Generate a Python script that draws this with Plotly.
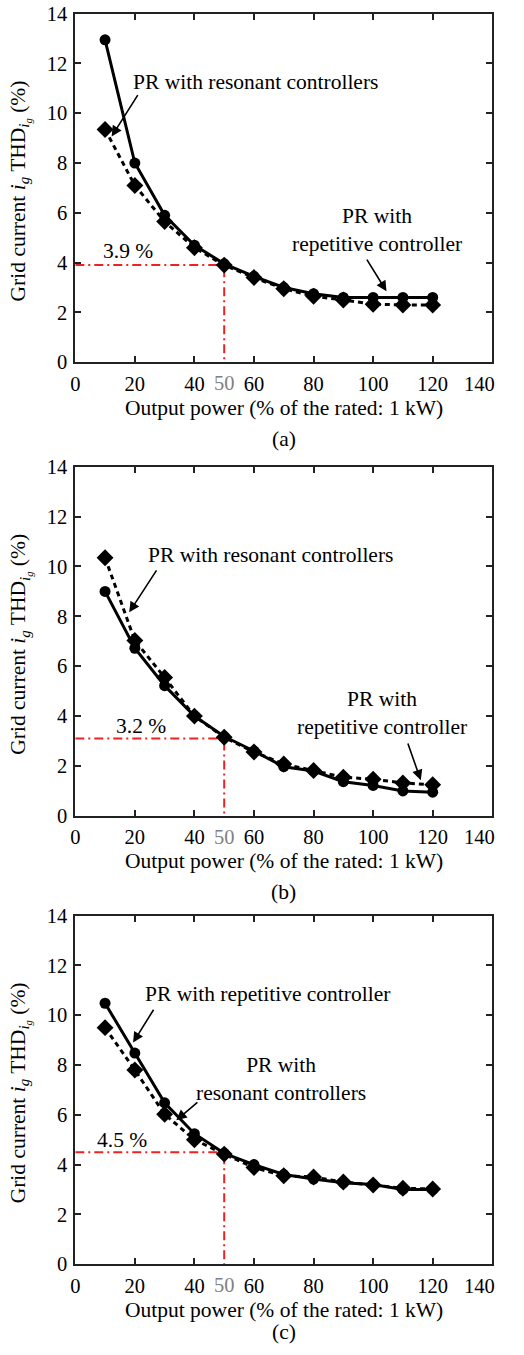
import plotly.graph_objects as go

power = [10, 20, 30, 40, 50, 60, 70, 80, 90, 100, 110, 120]

# (a)
a_repetitive = [12.95, 8.0, 5.9, 4.7, 3.95, 3.45, 3.0, 2.75, 2.6, 2.6, 2.6, 2.6]
a_resonant = [9.35, 7.1, 5.65, 4.6, 3.9, 3.4, 2.95, 2.65, 2.5, 2.33, 2.3, 2.3]
# (b)
b_repetitive = [9.0, 6.72, 5.22, 4.0, 3.18, 2.6, 1.97, 1.8, 1.37, 1.22, 1.0, 0.95]
b_resonant = [10.35, 7.03, 5.55, 4.0, 3.15, 2.56, 2.08, 1.82, 1.55, 1.47, 1.32, 1.25]
# (c)
c_repetitive = [10.48, 8.48, 6.48, 5.24, 4.45, 4.0, 3.6, 3.42, 3.27, 3.2, 3.0, 3.0]
c_resonant = [9.5, 7.8, 6.02, 5.0, 4.42, 3.88, 3.55, 3.5, 3.3, 3.18, 3.05, 3.02]

marker_values = [3.9, 3.1, 4.5]
marker_labels = ["3.9 %", "3.2 %", "4.5 %"]
panel_labels = ["(a)", "(b)", "(c)"]
x_ticks = [0, 20, 40, 60, 80, 100, 120, 140]
x_ticktext = ["0", "20", "40", "60", "80", "100", "120", "140\u00a0\u00a0\u00a0\u00a0\u00a0"]
y_ticks = [0, 2, 4, 6, 8, 10, 12, 14]

W, H = 524, 1355
FONT = "Liberation Serif"
FS_TICK = 20.5
FS = 21.5

# vertical mapping between target pixels and layout pixels (compensates the capture)
SY, OY = 0.986, 9.0


def py(r):
    return 1 - (r - OY) / SY / H


# horizontal frame of the plot areas in layout pixels
x_left_px, x_right_px = 75.0, 520.0
xl, xr = x_left_px / W, x_right_px / W
x_mid = (xl + xr) / 2

# target pixel geometry of each panel: (top, bottom)
panels = [(11.7, 361.0), (465.7, 815.7), (915.7, 1265.0)]

fig = go.Figure()
series = [(a_repetitive, a_resonant), (b_repetitive, b_resonant), (c_repetitive, c_resonant)]

layout_axes = {}
annotations = []
for i, ((top, bot), (rep, res)) in enumerate(zip(panels, series)):
    n = i + 1
    xa = "x" if n == 1 else f"x{n}"
    ya = "y" if n == 1 else f"y{n}"
    xkey = "xaxis" if n == 1 else f"xaxis{n}"
    ykey = "yaxis" if n == 1 else f"yaxis{n}"
    mv = marker_values[i]
    fig.add_trace(go.Scatter(x=[0, 50, 50], y=[mv, mv, 0], mode="lines",
                             line=dict(color="#ee2222", width=2, dash="9px,4px,2px,4px"),
                             xaxis=xa, yaxis=ya, showlegend=False, hoverinfo="skip"))
    fig.add_trace(go.Scatter(x=power, y=res, mode="lines+markers",
                             line=dict(color="black", width=3, dash="5px,4px"),
                             marker=dict(symbol="diamond", size=13, color="black"),
                             xaxis=xa, yaxis=ya, showlegend=False))
    fig.add_trace(go.Scatter(x=power, y=rep, mode="lines+markers",
                             line=dict(color="black", width=3),
                             marker=dict(symbol="circle", size=11, color="black"),
                             xaxis=xa, yaxis=ya, showlegend=False))
    common = dict(showline=True, linecolor="#222", linewidth=2, mirror="ticks",
                  ticks="inside", ticklen=6, tickwidth=2, tickcolor="#222",
                  showgrid=False, zeroline=False, ticklabelstandoff=2,
                  ticklabeloverflow="allow",
                  tickfont=dict(family=FONT, size=FS_TICK, color="black"))
    layout_axes[xkey] = dict(domain=[xl, xr], range=[0, 140],
                             tickvals=x_ticks, ticktext=x_ticktext, anchor=ya, **common)
    layout_axes[ykey] = dict(domain=[py(bot), py(top)], range=[0, 14],
                             tickvals=y_ticks, anchor=xa, **common)
    annotations.append(dict(x=50, y=py(bot + 21), xref=xa, yref="paper",
                            text="50", showarrow=False, yanchor="middle",
                            font=dict(family=FONT, size=FS_TICK, color="#808080")))
    annotations.append(dict(x=x_mid, y=py(bot + 45.5),
                            xref="paper", yref="paper", showarrow=False, yanchor="middle",
                            text="Output power (% of the rated: 1 kW)",
                            font=dict(family=FONT, size=FS, color="black")))
    annotations.append(dict(x=x_mid, y=max(py(bot + 76.5), 12.5 / H),
                            xref="paper", yref="paper", showarrow=False, yanchor="middle",
                            text=panel_labels[i],
                            font=dict(family=FONT, size=FS, color="black")))
    annotations.append(dict(x=16.5 / W, y=py((top + bot) / 2 + 3), xref="paper", yref="paper",
                            showarrow=False, textangle=-90, xanchor="center", yanchor="middle",
                            text="Grid current <i>i<sub>g</sub></i> THD<sub><i>i<sub>g</sub></i></sub> (%)",
                            font=dict(family=FONT, size=FS, color="black")))

value_pos = [(17.7, 4.47), (22.0, 3.59), (15.8, 4.98)]
for i, (vx, vy) in enumerate(value_pos):
    n = i + 1
    xa = "x" if n == 1 else f"x{n}"
    ya = "y" if n == 1 else f"y{n}"
    annotations.append(dict(x=vx, y=vy, xref=xa, yref=ya, text=marker_labels[i], showarrow=False,
                            font=dict(family=FONT, size=FS, color="black")))

callouts = [
    (1, 60.5, 11.27, "PR with resonant controllers"),
    (1, 101.3, 5.33, "PR with<br>repetitive controller"),
    (2, 65.7, 10.46, "PR with resonant controllers"),
    (2, 103.0, 4.14, "PR with<br>repetitive controller"),
    (3, 64.4, 10.85, "PR with repetitive controller"),
    (3, 69.0, 7.45, "PR with<br>resonant controllers"),
]
for n, cx, cy, t in callouts:
    xa = "x" if n == 1 else f"x{n}"
    ya = "y" if n == 1 else f"y{n}"
    annotations.append(dict(x=cx, y=cy, xref=xa, yref=ya, text=t, showarrow=False,
                            align="center", yanchor="middle",
                            font=dict(family=FONT, size=FS, color="black")))

arrows = [
    (1, 21.3, 10.79, 12.2, 9.07),
    (1, 97.6, 4.18, 104.5, 2.85),
    (2, 27.6, 9.9, 18.1, 8.16),
    (2, 111.5, 2.96, 116.0, 1.43),
    (3, 26.6, 10.28, 19.4, 8.9),
    (3, 41.5, 6.55, 33.9, 5.78),
]
for n, tx, ty, hx, hy in arrows:
    xa = "x" if n == 1 else f"x{n}"
    ya = "y" if n == 1 else f"y{n}"
    annotations.append(dict(x=hx, y=hy, ax=tx, ay=ty, xref=xa, yref=ya, axref=xa, ayref=ya,
                            text="", showarrow=True, arrowhead=2, arrowsize=1.3,
                            arrowwidth=1.6, arrowcolor="black", standoff=0))

fig.update_layout(width=W, height=H, margin=dict(l=0, r=0, t=0, b=0),
                  paper_bgcolor="white", plot_bgcolor="white",
                  font=dict(family=FONT, size=FS, color="black"),
                  annotations=annotations, showlegend=False, **layout_axes)

fig.write_html("out.html")
